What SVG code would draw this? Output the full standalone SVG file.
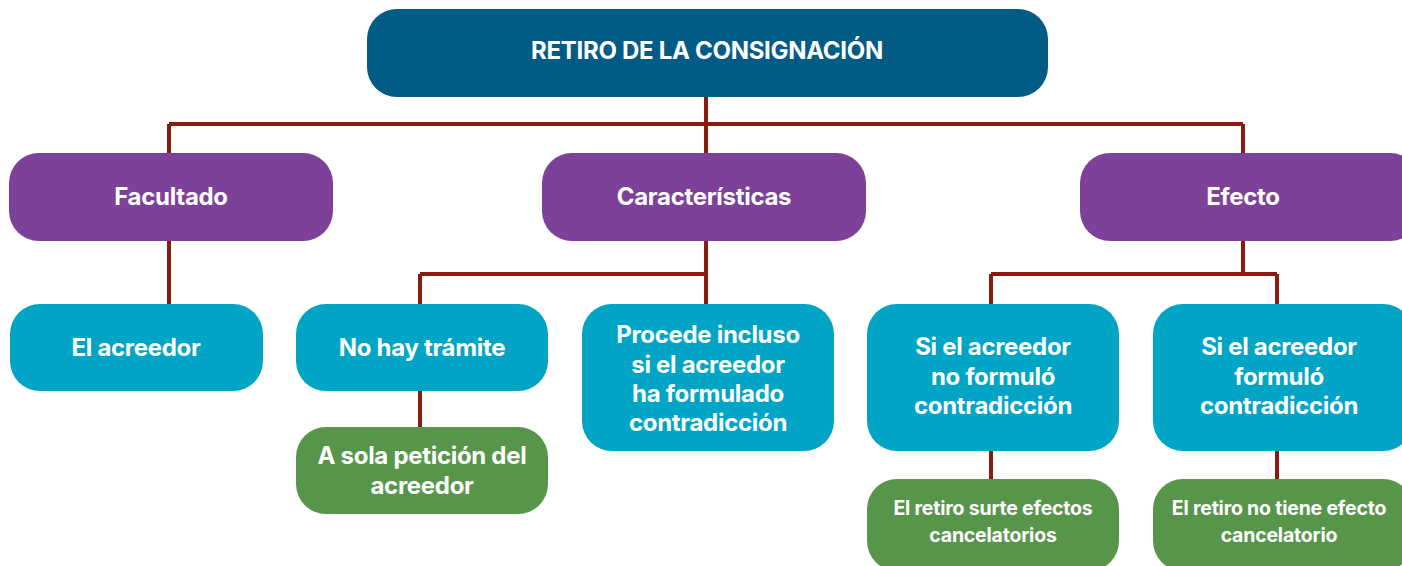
<svg xmlns="http://www.w3.org/2000/svg" width="1402" height="566" viewBox="0 0 1402 566">
<style>
.t{font-family:Inter,"Noto Sans","Liberation Sans",sans-serif;font-weight:700;fill:#fff;text-anchor:middle;letter-spacing:-0.3px}
.f{font-size:24px}
.s{font-size:19.5px;letter-spacing:-0.2px}
.root{fill:#025b85}
.p{fill:#7d4199}
.c{fill:#00a5c6}
.g{fill:#57964a}
.ln{stroke:#8c1a0f;stroke-width:4;fill:none}
</style>
<rect width="1402" height="566" fill="#fff"/>
<g id="connectors">
<path class="ln" d="M706 97V124M169 124H1243M169 124V153M706 124V153M1243 124V153"/>
<path class="ln" d="M169 241V304"/>
<path class="ln" d="M706 241V304M420 274H706M420 274V304M420 391V427"/>
<path class="ln" d="M1243 241V274M991 274H1277M991 274V304M1277 274V304M991 451V479M1277 451V479"/>
</g>
<g id="root"><rect class="root" x="367" y="9" width="681" height="88" rx="30"/><text class="t" x="707" y="59" font-size="24" letter-spacing="-0.2">RETIRO DE LA CONSIGNACIÓN</text></g>
<g id="facultado"><rect class="p" x="9" y="153" width="324" height="88" rx="30"/><text class="t f" x="171" y="205">Facultado</text></g>
<g id="caracteristicas"><rect class="p" x="542" y="153" width="324" height="88" rx="30"/><text class="t f" x="704" y="205">Características</text></g>
<g id="efecto"><rect class="p" x="1080" y="153" width="340" height="88" rx="30"/><text class="t f" x="1243" y="205">Efecto</text></g>
<g id="el-acreedor"><rect class="c" x="10" y="304" width="253" height="87" rx="30"/><text class="t f" x="136" y="356">El acreedor</text></g>
<g id="no-hay-tramite"><rect class="c" x="296" y="304" width="252" height="87" rx="30"/><text class="t f" x="422" y="356">No hay trámite</text></g>
<g id="a-sola-peticion"><rect class="g" x="296" y="427" width="252" height="87" rx="30"/><text class="t f" x="422" y="464">A sola petición del</text><text class="t f" x="422" y="494">acreedor</text></g>
<g id="procede"><rect class="c" x="582" y="304" width="252" height="147" rx="30"/><text class="t f" x="708" y="343">Procede incluso</text><text class="t f" x="708" y="373">si el acreedor</text><text class="t f" x="708" y="402">ha formulado</text><text class="t f" x="708" y="431">contradicción</text></g>
<g id="no-formulo"><rect class="c" x="867" y="304" width="252" height="147" rx="30"/><text class="t f" x="993" y="355">Si el acreedor</text><text class="t f" x="993" y="385">no formuló</text><text class="t f" x="993" y="414">contradicción</text></g>
<g id="formulo"><rect class="c" x="1153" y="304" width="260" height="147" rx="30"/><text class="t f" x="1279" y="355">Si el acreedor</text><text class="t f" x="1279" y="385">formuló</text><text class="t f" x="1279" y="414">contradicción</text></g>
<g id="surte-efectos"><rect class="g" x="867" y="479" width="252" height="92" rx="30"/><text class="t s" x="993" y="515">El retiro surte efectos</text><text class="t s" x="993" y="542">cancelatorios</text></g>
<g id="no-tiene-efecto"><rect class="g" x="1153" y="479" width="260" height="92" rx="30"/><text class="t s" x="1279" y="515">El retiro no tiene efecto</text><text class="t s" x="1279" y="542">cancelatorio</text></g>
</svg>
